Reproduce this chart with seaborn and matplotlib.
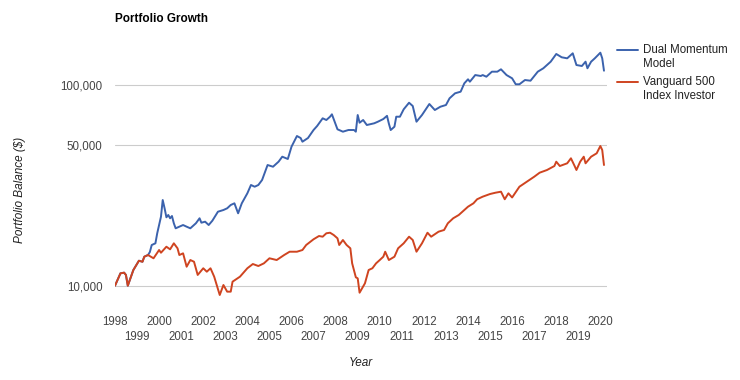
# Portfolio growth chart: Dual Momentum model vs Vanguard 500 Index Investor,
# log-scaled balance from 1998 to early 2020.

import pandas as pd
import seaborn as sns
import matplotlib.pyplot as plt
import matplotlib.dates as mdates
from matplotlib.ticker import FixedLocator, FuncFormatter, NullLocator
from matplotlib.lines import Line2D

# --- data ---
dm_dates = [
    "1998-01", "1998-04", "1998-06", "1998-07", "1998-08", "1998-11", "1999-02", "1999-04",
    "1999-05", "1999-07", "1999-08", "1999-09", "1999-11", "1999-12", "2000-02", "2000-03",
    "2000-04", "2000-05", "2000-06", "2000-07", "2000-08", "2000-09", "2000-10", "2001-02",
    "2001-04", "2001-06", "2001-09", "2001-11", "2001-12", "2002-02", "2002-04", "2002-06",
    "2002-09", "2002-12", "2003-02", "2003-04", "2003-06", "2003-08", "2003-10", "2004-01",
    "2004-03", "2004-05", "2004-07", "2004-09", "2004-12", "2005-03", "2005-06", "2005-08",
    "2005-11", "2006-01", "2006-04", "2006-06", "2006-07", "2006-10", "2007-01", "2007-03",
    "2007-06", "2007-08", "2007-10", "2007-11", "2008-02", "2008-05", "2008-08", "2008-11",
    "2008-12", "2009-01", "2009-02", "2009-04", "2009-06", "2009-10", "2009-12", "2010-03",
    "2010-05", "2010-06", "2010-07", "2010-09", "2010-10", "2010-12", "2011-02", "2011-05",
    "2011-07", "2011-09", "2011-12", "2012-04", "2012-07", "2012-10", "2013-01", "2013-03",
    "2013-06", "2013-09", "2013-11", "2014-01", "2014-02", "2014-05", "2014-08", "2014-09",
    "2014-11", "2015-02", "2015-05", "2015-07", "2015-10", "2016-01", "2016-03", "2016-05",
    "2016-08", "2016-11", "2017-03", "2017-06", "2017-10", "2018-01", "2018-04", "2018-07",
    "2018-10", "2018-12", "2019-03", "2019-05", "2019-06", "2019-08", "2019-10", "2020-01",
    "2020-02", "2020-03",
]
dm_values = [
    10000, 11520, 11610, 11310, 10000, 11970, 13310, 13160,
    13940, 14210, 14710, 15940, 16250, 18230, 22040, 26690,
    24270, 21890, 22480, 21650, 22220, 20440, 19300, 20040,
    19660, 19300, 20440, 21650, 20580, 20820, 20040, 21060,
    23340, 23800, 24270, 25210, 25700, 22920, 25700, 28820,
    31700, 31080, 31700, 33570, 39850, 39080, 41400, 43840,
    42700, 49160, 55560, 54300, 52050, 54300, 59520, 62300,
    68050, 66740, 69310, 71240, 60000, 58380, 59520, 59520,
    58380, 70670, 64710, 66740, 63020, 64270, 65450, 67500,
    70000, 64000, 59500, 61800, 69310, 69310, 75430, 81350,
    78340, 65450, 70670, 80170, 74830, 77720, 79250, 85540,
    90630, 92310, 101600, 106400, 103500, 111700, 110500, 111700,
    109600, 116100, 116100, 119300, 111700, 107600, 100500, 100500,
    105500, 104700, 116100, 120700, 130200, 142200, 136900, 135300,
    143300, 125300, 123900, 130200, 120700, 130200, 135300, 144300,
    135300, 117400,
]

vfinx_dates = [
    "1998-01", "1998-04", "1998-06", "1998-07", "1998-08", "1998-11", "1999-02", "1999-04",
    "1999-05", "1999-07", "1999-10", "2000-01", "2000-02", "2000-05", "2000-07", "2000-09",
    "2000-11", "2000-12", "2001-02", "2001-04", "2001-06", "2001-08", "2001-10", "2002-01",
    "2002-03", "2002-05", "2002-07", "2002-10", "2002-12", "2003-02", "2003-04", "2003-05",
    "2003-09", "2004-01", "2004-04", "2004-07", "2004-10", "2005-01", "2005-05", "2005-09",
    "2005-12", "2006-04", "2006-07", "2006-09", "2007-01", "2007-04", "2007-06", "2007-08",
    "2007-10", "2007-12", "2008-02", "2008-03", "2008-05", "2008-07", "2008-09", "2008-10",
    "2008-12", "2009-01", "2009-02", "2009-05", "2009-07", "2009-09", "2009-11", "2010-01",
    "2010-03", "2010-04", "2010-06", "2010-09", "2010-11", "2011-02", "2011-05", "2011-07",
    "2011-09", "2011-12", "2012-03", "2012-05", "2012-09", "2012-12", "2013-02", "2013-05",
    "2013-08", "2013-11", "2014-01", "2014-04", "2014-06", "2014-09", "2015-01", "2015-04",
    "2015-07", "2015-09", "2015-11", "2016-01", "2016-05", "2016-09", "2017-01", "2017-04",
    "2017-08", "2017-12", "2018-01", "2018-03", "2018-07", "2018-09", "2018-11", "2018-12",
    "2019-02", "2019-04", "2019-05", "2019-08", "2019-11", "2020-01", "2020-02", "2020-03",
]
vfinx_values = [
    10000, 11520, 11610, 11310, 10000, 11970, 13310, 13160,
    13940, 14210, 13690, 15050, 14590, 15630, 15170, 16250,
    15350, 14210, 14490, 12430, 13420, 13160, 11310, 12210,
    11740, 12210, 11090, 8990, 10080, 9340, 9340, 10470,
    11090, 12210, 12820, 12530, 12920, 13690, 13420, 14210,
    14760, 14760, 15050, 15940, 17020, 17670, 17530, 18230,
    18350, 17870, 17210, 15940, 16880, 15940, 15350, 12920,
    11010, 10880, 9230, 10280, 11970, 12210, 12920, 13420,
    13940, 14760, 13420, 13940, 15350, 16250, 17530, 16880,
    14760, 16250, 18350, 17530, 18570, 18930, 20440, 21650,
    22480, 23800, 24720, 25700, 26920, 27730, 28590, 29020,
    29360, 26920, 28820, 27470, 31080, 32920, 34850, 36500,
    37640, 39400, 41400, 39400, 40640, 43040, 39400, 37640,
    41400, 43840, 40640, 43840, 45570, 49550, 47320, 39850,
]

series_names = ["Dual Momentum Model", "Vanguard 500 Index Investor"]
legend_labels = ["Dual Momentum\nModel", "Vanguard 500\nIndex Investor"]
series_colors = ["#3b62ad", "#cf4420"]
y_ticks = [10000, 50000, 100000]
even_years = list(range(1998, 2021, 2))
odd_years = list(range(1999, 2020, 2))

df = pd.concat([
    pd.DataFrame({"date": pd.to_datetime(dm_dates), "balance": dm_values, "series": series_names[0]}),
    pd.DataFrame({"date": pd.to_datetime(vfinx_dates), "balance": vfinx_values, "series": series_names[1]}),
], ignore_index=True)

sns.set_style("white")
plt.rcParams["font.family"] = ["Liberation Sans", "DejaVu Sans"]

fig = plt.figure(figsize=(7.4, 3.8), dpi=100)
ax = fig.add_axes([115 / 740, 1 - 310 / 380, 492 / 740, 265 / 380])

sns.lineplot(data=df, x="date", y="balance", hue="series", hue_order=series_names,
             palette=series_colors, estimator=None, linewidth=1.4, legend=False, ax=ax)

# log scale with only three gridlines
ax.set_yscale("log")
ax.set_ylim(7570, 157600)
ax.yaxis.set_major_locator(FixedLocator(y_ticks))
ax.yaxis.set_minor_locator(NullLocator())
ax.yaxis.set_major_formatter(FuncFormatter(lambda v, _: f"{v:,.0f}"))
ax.grid(axis="y", color="#cccccc", linewidth=0.8)
ax.set_axisbelow(True)

# x axis: even years on the first row, odd years below
ax.set_xlim(pd.Timestamp("1998-01-01"), pd.Timestamp("2020-04-20"))
ax.xaxis.set_major_locator(FixedLocator([mdates.date2num(pd.Timestamp(f"{y}-01-01")) for y in even_years]))
ax.xaxis.set_minor_locator(FixedLocator([mdates.date2num(pd.Timestamp(f"{y}-01-01")) for y in odd_years]))
ax.xaxis.set_major_formatter(mdates.DateFormatter("%Y"))
ax.xaxis.set_minor_formatter(mdates.DateFormatter("%Y"))
ax.tick_params(axis="x", which="major", length=0, pad=4, labelsize=8.3, colors="#444444")
ax.tick_params(axis="x", which="minor", length=0, pad=15, labelsize=8.3, colors="#444444")
ax.tick_params(axis="y", length=0, pad=9, labelsize=8.3, colors="#444444")
ax.set_xlabel("")
ax.set_ylabel("")
sns.despine(ax=ax, left=True, bottom=True)

fig.text(115 / 740, 1 - 19 / 380, "Portfolio Growth", fontsize=8.5, fontweight="bold",
         color="black", va="center", ha="left")
fig.text(361 / 740, 1 - 363 / 380, "Year", fontsize=8.5, style="italic",
         color="#222222", va="center", ha="center")
fig.text(20 / 740, 1 - 190 / 380, "Portfolio Balance ($)", fontsize=8.5, style="italic",
         color="#222222", va="center", ha="center", rotation=90)

# legend drawn by hand so the key sits level with the first text line
for i, (label, color) in enumerate(zip(legend_labels, series_colors)):
    y = 1 - (50 + 32 * i) / 380
    fig.add_artist(Line2D([617 / 740, 638 / 740], [y, y], color=color, linewidth=1.4))
    fig.text(643 / 740, y + 6 / 380, label, fontsize=8.3, color="#222222",
             va="top", ha="left", linespacing=1.25)

fig.savefig("out.png", dpi=100)
